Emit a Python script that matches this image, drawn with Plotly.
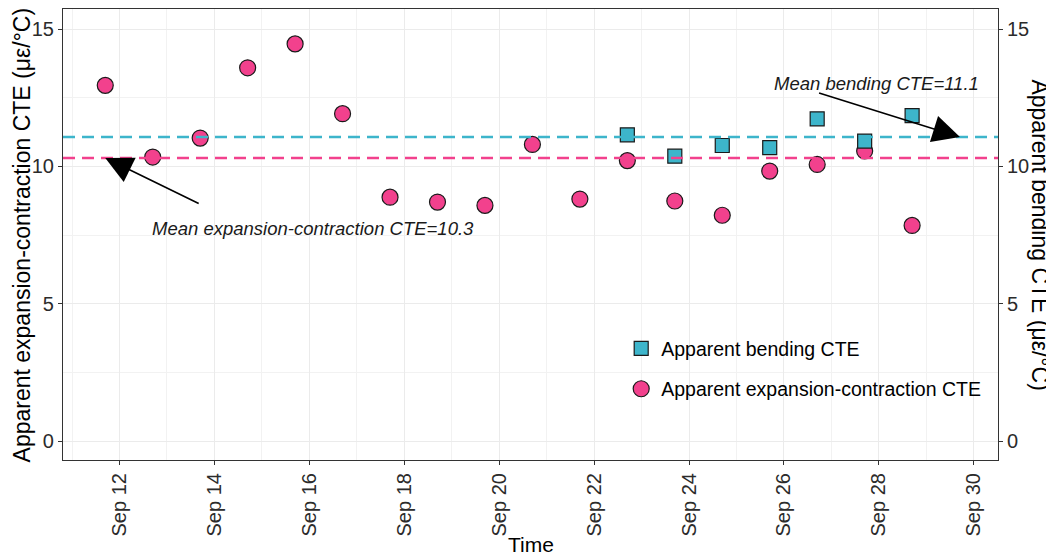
import plotly.graph_objects as go

# ---- data ----
exp_days = ["2021-09-%02d 16:48" % d for d in range(11, 29)]
exp_cte = [12.95, 10.34, 11.03, 13.59, 14.46, 11.92, 8.88, 8.70, 8.58,
           10.80, 8.81, 10.21, 8.74, 8.22, 9.83, 10.07, 10.56, 7.85]
bend_days = ["2021-09-%02d 16:48" % d for d in range(22, 29)]
bend_cte = [11.15, 10.37, 10.76, 10.68, 11.73, 10.92, 11.85]

mean_exp = sum(exp_cte) / len(exp_cte)
mean_bend = sum(bend_cte) / len(bend_cte)

x_range = ["2021-09-10 19:26", "2021-09-30 12:14"]
y_range = [-0.69, 15.73]

c_bend = "#3DB5CB"
c_exp = "#F2418D"
font_family = "Liberation Sans, Arial, sans-serif"

fig = go.Figure()

fig.add_trace(go.Scatter(
    x=bend_days, y=bend_cte, mode="markers", name="Apparent bending CTE",
    legendgroup="a", legendrank=1,
    marker=dict(symbol="square", size=14, color=c_bend,
                line=dict(color="#1a1a1a", width=1.2)),
    yaxis="y2"))
fig.add_trace(go.Scatter(
    x=exp_days, y=exp_cte, mode="markers",
    name="Apparent expansion-contraction CTE",
    legendgroup="b", legendrank=2,
    marker=dict(symbol="circle", size=16, color=c_exp,
                line=dict(color="#1a1a1a", width=1.2))))

# mean lines
fig.add_shape(type="line", xref="paper", x0=0, x1=1, yref="y",
              y0=mean_bend, y1=mean_bend,
              line=dict(color=c_bend, width=2.5, dash="12px,7px"))
fig.add_shape(type="line", xref="paper", x0=0, x1=1, yref="y",
              y0=mean_exp, y1=mean_exp,
              line=dict(color=c_exp, width=2.5, dash="12px,7px"))

# arrows
fig.add_annotation(x="2021-09-11 16:48", y=mean_exp, ax="2021-09-13 16:48", ay=8.62,
                   xref="x", yref="y", axref="x", ayref="y", text="",
                   showarrow=True, arrowhead=2, arrowsize=3.4, arrowwidth=1.6,
                   arrowcolor="black")
fig.add_annotation(x="2021-09-29 17:00", y=mean_bend, ax="2021-09-26 17:00", ay=12.69,
                   xref="x", yref="y", axref="x", ayref="y", text="",
                   showarrow=True, arrowhead=2, arrowsize=3.4, arrowwidth=1.6,
                   arrowcolor="black")
fig.add_annotation(x="2021-09-16 02:00", y=7.75, xref="x", yref="y",
                   text="<i>Mean expansion-contraction CTE=%.1f</i>" % mean_exp,
                   showarrow=False, font=dict(size=18.5, color="#1a1a1a", family=font_family))
fig.add_annotation(x="2021-09-27 23:00", y=13.0, xref="x", yref="y",
                   text="<i>Mean bending CTE=%.1f</i>" % mean_bend,
                   showarrow=False, font=dict(size=18.5, color="#1a1a1a", family=font_family))

# axis titles
fig.add_annotation(x=-0.0439, y=0.5, xref="paper", yref="paper", textangle=-90,
                   text="Apparent expansion-contraction CTE (\u03bc\u03b5/\u00b0C)",
                   showarrow=False, xanchor="center", yanchor="middle",
                   font=dict(size=23, color="black", family=font_family))
fig.add_annotation(x=1.045, y=0.5, xref="paper", yref="paper", textangle=90,
                   text="Apparent bending CTE (\u03bc\u03b5/\u00b0C)",
                   showarrow=False, xanchor="center", yanchor="middle",
                   font=dict(size=23, color="black", family=font_family))
fig.add_annotation(x=0.5, y=-0.188, xref="paper", yref="paper",
                   text="Time", showarrow=False, xanchor="center", yanchor="middle",
                   font=dict(size=21, color="black", family=font_family))

axis_common = dict(showline=True, linecolor="#333333", linewidth=1.2, mirror=True,
                   ticks="outside", ticklen=4, tickcolor="#333333", tickwidth=1,
                   gridcolor="#EBEBEB", gridwidth=1, zeroline=False, automargin=False,
                   tickfont=dict(size=20, color="#2b2b2b", family=font_family))

# page body has an 8px margin, so the figure is drawn 8px smaller and offset
fig.update_layout(
    width=1046, height=551,
    margin=dict(l=55, r=56, t=1, b=99, autoexpand=False),
    paper_bgcolor="white", plot_bgcolor="white",
    font=dict(family=font_family),
    xaxis=dict(type="date", range=x_range, tickformat="%b %d",
               tick0="2021-09-12", dtick=2 * 86400000, tickangle=-90,
               minor=dict(dtick=86400000, showgrid=True, gridcolor="#F2F2F2", gridwidth=1),
               **axis_common),
    yaxis=dict(range=y_range, tick0=0, dtick=5,
               minor=dict(dtick=2.5, showgrid=True, gridcolor="#F2F2F2", gridwidth=1),
               **axis_common),
    yaxis2=dict(range=y_range, tick0=0, dtick=5, overlaying="y", side="right",
                showgrid=False, zeroline=False, ticks="outside", ticklen=4,
                tickcolor="#333333", showline=False, automargin=False,
                tickfont=dict(size=20, color="#2b2b2b", family=font_family)),
    legend=dict(x=0.597, y=0.29, xanchor="left", yanchor="top",
                bgcolor="rgba(255,255,255,0)", tracegroupgap=12,
                font=dict(size=19.5, color="black", family=font_family)),
    showlegend=True,
)

fig.write_html("out.html")
